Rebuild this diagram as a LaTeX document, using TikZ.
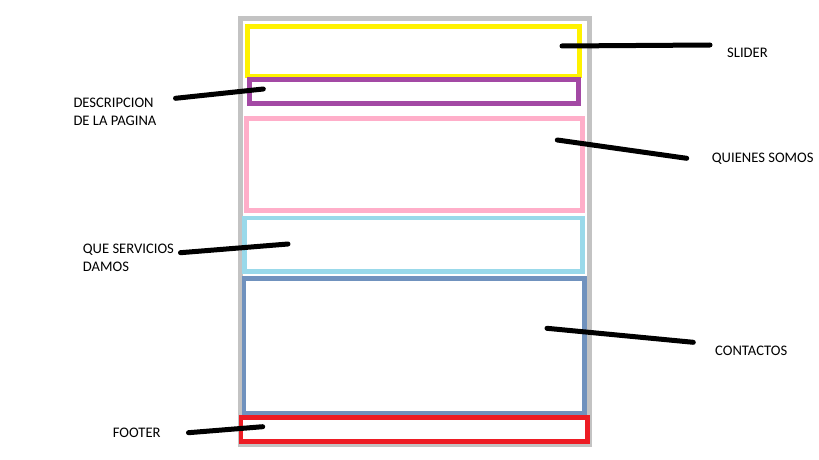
\documentclass[tikz,border=0pt]{standalone}
\usepackage{fontspec}
\setmainfont{Carlito}
\definecolor{pgray}{HTML}{C3C3C3}
\definecolor{pyellow}{HTML}{FFF200}
\definecolor{ppurple}{HTML}{A349A4}
\definecolor{ppink}{HTML}{FFAEC9}
\definecolor{plblue}{HTML}{99D9EA}
\definecolor{pblue}{HTML}{7092BE}
\definecolor{pred}{HTML}{ED1C24}
\begin{document}
\begin{tikzpicture}[x=1pt,y=-1pt,
  box/.style={line width=4.7pt},
  pointer/.style={line width=5pt,line cap=round,black},
  lbl/.style={inner sep=0pt,anchor=base west,align=left,font=\fontsize{14.6}{17.7}\selectfont}]
\useasboundingbox[fill=white] (0,0) rectangle (819,460);
% frame
\draw[box,pgray] (240.5,18.5) rectangle (589.5,444.3);
% sections
\draw[box,pyellow] (247.5,26.5) rectangle (579.3,76);
\draw[box,ppurple] (249.5,79.6) rectangle (578.7,103.6);
\draw[box,ppink] (246.4,118.4) rectangle (582.6,210.4);
\draw[box,plblue] (244.4,218) rectangle (582.6,271.7);
\draw[box,pblue] (244.1,278.4) rectangle (584.6,413.4);
\draw[box,pred] (241.1,417.4) rectangle (587.6,441.6);
% labels (multi-line nodes: base = last line)
\node[lbl] (slider) at (727,57.3) {SLIDER};
\node[lbl] (quienes) at (711.7,162.7) {QUIENES SOMOS};
\node[lbl] (desc) at (73.3,125) {DESCRIPCION\\DE LA PAGINA};
\node[lbl] (serv) at (82.7,271) {QUE SERVICIOS\\DAMOS};
\node[lbl] (cont) at (715,355) {CONTACTOS};
\node[lbl] (foot) at (112.7,437.3) {FOOTER};
% pointer ends
\coordinate (s1) at (562,46);   \coordinate (s2) at (710,45);
\coordinate (q1) at (557.3,140); \coordinate (q2) at (686.7,158.3);
\coordinate (d1) at (175.5,98.3); \coordinate (d2) at (263.3,89);
\coordinate (v1) at (180.5,252.7); \coordinate (v2) at (288,244);
\coordinate (c1) at (547,328.3); \coordinate (c2) at (693.3,342.3);
\coordinate (f1) at (188.5,432.7); \coordinate (f2) at (262.7,426.7);
\draw[pointer] (s1) -- (s2);
\draw[pointer] (q1) -- (q2);
\draw[pointer] (d1) -- (d2);
\draw[pointer] (v1) -- (v2);
\draw[pointer] (c1) -- (c2);
\draw[pointer] (f1) -- (f2);
\end{tikzpicture}
\end{document}
